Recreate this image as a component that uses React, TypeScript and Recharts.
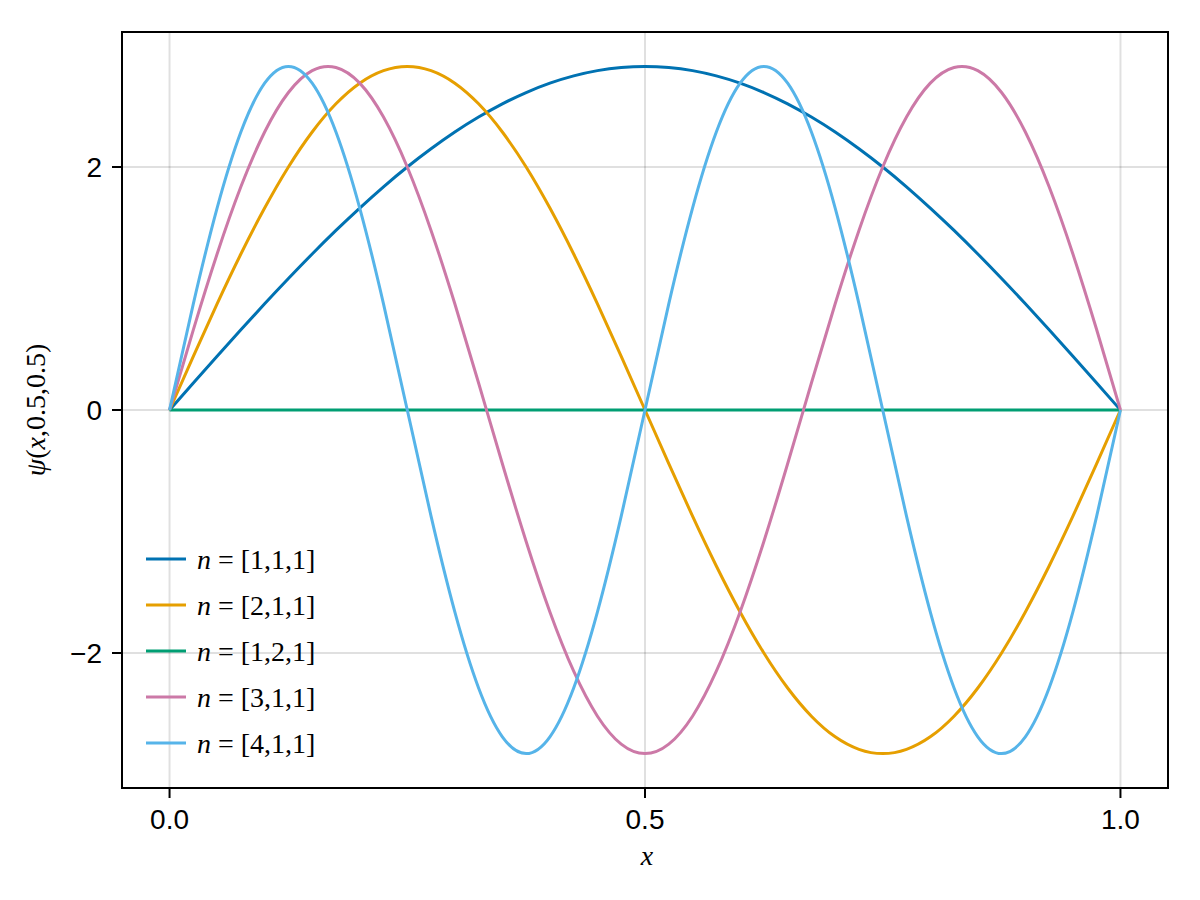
import React from "react";
import { LineChart, Line, XAxis, YAxis, CartesianGrid, ReferenceArea } from "recharts";

const xs = [
  0, 0.025, 0.05, 0.075, 0.1, 0.125, 0.15, 0.175, 0.2, 0.225, 0.25, 0.275, 0.3, 0.325, 0.35, 0.375, 0.4, 0.425, 0.45, 0.475,
  0.5, 0.525, 0.55, 0.575, 0.6, 0.625, 0.65, 0.675, 0.7, 0.725, 0.75, 0.775, 0.8, 0.825, 0.85, 0.875, 0.9, 0.925, 0.95, 0.975, 1,
];

const n111 = [
  0, 0.222, 0.442, 0.66, 0.874, 1.082, 1.284, 1.478, 1.662, 1.837, 2.0, 2.15, 2.288, 2.411, 2.52, 2.613, 2.69, 2.75, 2.793, 2.819,
  2.828, 2.819, 2.793, 2.75, 2.69, 2.613, 2.52, 2.411, 2.288, 2.15, 2.0, 1.837, 1.662, 1.478, 1.284, 1.082, 0.874, 0.66, 0.442, 0.222, 0,
];

const n211 = [
  0, 0.442, 0.874, 1.284, 1.662, 2.0, 2.288, 2.52, 2.69, 2.793, 2.828, 2.793, 2.69, 2.52, 2.288, 2.0, 1.662, 1.284, 0.874, 0.442,
  0, -0.442, -0.874, -1.284, -1.662, -2.0, -2.288, -2.52, -2.69, -2.793, -2.828, -2.793, -2.69, -2.52, -2.288, -2.0, -1.662, -1.284, -0.874, -0.442, 0,
];

const n121 = [
  0, 0, 0, 0, 0, 0, 0, 0, 0, 0, 0, 0, 0, 0, 0, 0, 0, 0, 0, 0,
  0, 0, 0, 0, 0, 0, 0, 0, 0, 0, 0, 0, 0, 0, 0, 0, 0, 0, 0, 0, 0,
];

const n311 = [
  0, 0.66, 1.284, 1.837, 2.288, 2.613, 2.793, 2.819, 2.69, 2.411, 2.0, 1.478, 0.874, 0.222, -0.442, -1.082, -1.662, -2.15, -2.52, -2.75,
  -2.828, -2.75, -2.52, -2.15, -1.662, -1.082, -0.442, 0.222, 0.874, 1.478, 2.0, 2.411, 2.69, 2.819, 2.793, 2.613, 2.288, 1.837, 1.284, 0.66, 0,
];

const n411 = [
  0, 0.874, 1.662, 2.288, 2.69, 2.828, 2.69, 2.288, 1.662, 0.874, 0, -0.874, -1.662, -2.288, -2.69, -2.828, -2.69, -2.288, -1.662, -0.874,
  0, 0.874, 1.662, 2.288, 2.69, 2.828, 2.69, 2.288, 1.662, 0.874, 0, -0.874, -1.662, -2.288, -2.69, -2.828, -2.69, -2.288, -1.662, -0.874, 0,
];

const seriesKeys = ["n111", "n211", "n121", "n311", "n411"];
const seriesLabels = ["[1,1,1]", "[2,1,1]", "[1,2,1]", "[3,1,1]", "[4,1,1]"];
const seriesColors = ["#0072B2", "#E69F00", "#009E73", "#CC79A7", "#56B4E9"];
const seriesValues = [n111, n211, n121, n311, n411];

const xDomain = [-0.05, 1.05];
const yDomain = [-3.111, 3.111];
const xTicks = [0, 0.5, 1];
const yTicks = [-2, 0, 2];
const xTickLabels = ["0.0", "0.5", "1.0"];
const yTickLabels = ["−2", "0", "2"];

const data = xs.map((x, i) => {
  const row: Record<string, number> = { x };
  seriesKeys.forEach((k, j) => {
    row[k] = seriesValues[j][i];
  });
  return row;
});

const TICK_FONT = "'Liberation Sans', Arial, Helvetica, sans-serif";
const MATH_FONT = "'Liberation Serif', 'Times New Roman', serif";

const XTick = (props: any) => {
  const { x, y, payload } = props;
  const idx = xTicks.indexOf(payload.value);
  return (
    <text x={x} y={y} dy={29} textAnchor="middle" fontFamily={TICK_FONT} fontSize={28} fill="#000">
      {idx >= 0 ? xTickLabels[idx] : String(payload.value)}
    </text>
  );
};

const YTick = (props: any) => {
  const { x, y, payload } = props;
  const idx = yTicks.indexOf(payload.value);
  return (
    <text x={x} y={y} dx={-8} dy={10} textAnchor="end" fontFamily={TICK_FONT} fontSize={28} fill="#000">
      {idx >= 0 ? yTickLabels[idx] : String(payload.value)}
    </text>
  );
};

export default function App() {
  return (
    <div style={{ position: "absolute", left: 0, top: 0, width: 1200, height: 900, background: "#fff" }}>
      <LineChart width={1200} height={900} data={data} margin={{ top: 32, right: 32, bottom: 0, left: 0 }}>
        <CartesianGrid stroke="#000" strokeOpacity={0.12} strokeWidth={2} />
        <XAxis
          dataKey="x"
          type="number"
          domain={xDomain}
          ticks={xTicks}
          allowDataOverflow
          height={112}
          tick={<XTick />}
          tickSize={10}
          tickLine={{ stroke: "#000", strokeWidth: 2 }}
          axisLine={{ stroke: "#000", strokeWidth: 2 }}
          interval={0}
        />
        <YAxis
          type="number"
          domain={yDomain}
          ticks={yTicks}
          allowDataOverflow
          width={122}
          tick={<YTick />}
          tickSize={10}
          tickLine={{ stroke: "#000", strokeWidth: 2 }}
          axisLine={{ stroke: "#000", strokeWidth: 2 }}
          interval={0}
        />
        <ReferenceArea
          x1={xDomain[0]}
          x2={xDomain[1]}
          y1={yDomain[0]}
          y2={yDomain[1]}
          fill="none"
          fillOpacity={0}
          stroke="#000"
          strokeWidth={2}
          ifOverflow="visible"
        />
        {seriesKeys.map((k, j) => (
          <Line
            key={k}
            dataKey={k}
            type="natural"
            stroke={seriesColors[j]}
            strokeWidth={3}
            dot={false}
            activeDot={false}
            isAnimationActive={false}
          />
        ))}
      </LineChart>
      <svg
        width={1200}
        height={900}
        style={{ position: "absolute", left: 0, top: 0, pointerEvents: "none" }}
      >
        <text x={647} y={865} textAnchor="middle" fontFamily={MATH_FONT} fontSize={28} fontStyle="italic" fill="#000">
          x
        </text>
        <text
          x={45}
          y={410}
          textAnchor="middle"
          fontFamily={MATH_FONT}
          fontSize={28}
          fill="#000"
          transform="rotate(-90, 45, 410)"
        >
          <tspan fontStyle="italic">ψ</tspan>
          <tspan>(</tspan>
          <tspan fontStyle="italic">x</tspan>
          <tspan>,0.5,0.5)</tspan>
        </text>
        {seriesKeys.map((k, j) => {
          const cy = 559 + j * 46;
          return (
            <g key={k}>
              <line x1={146} x2={186} y1={cy} y2={cy} stroke={seriesColors[j]} strokeWidth={3} />
              <text x={197} y={cy + 10} fontFamily={MATH_FONT} fontSize={28} fill="#000">
                <tspan fontStyle="italic">n</tspan>
                <tspan> = {seriesLabels[j]}</tspan>
              </text>
            </g>
          );
        })}
      </svg>
    </div>
  );
}
